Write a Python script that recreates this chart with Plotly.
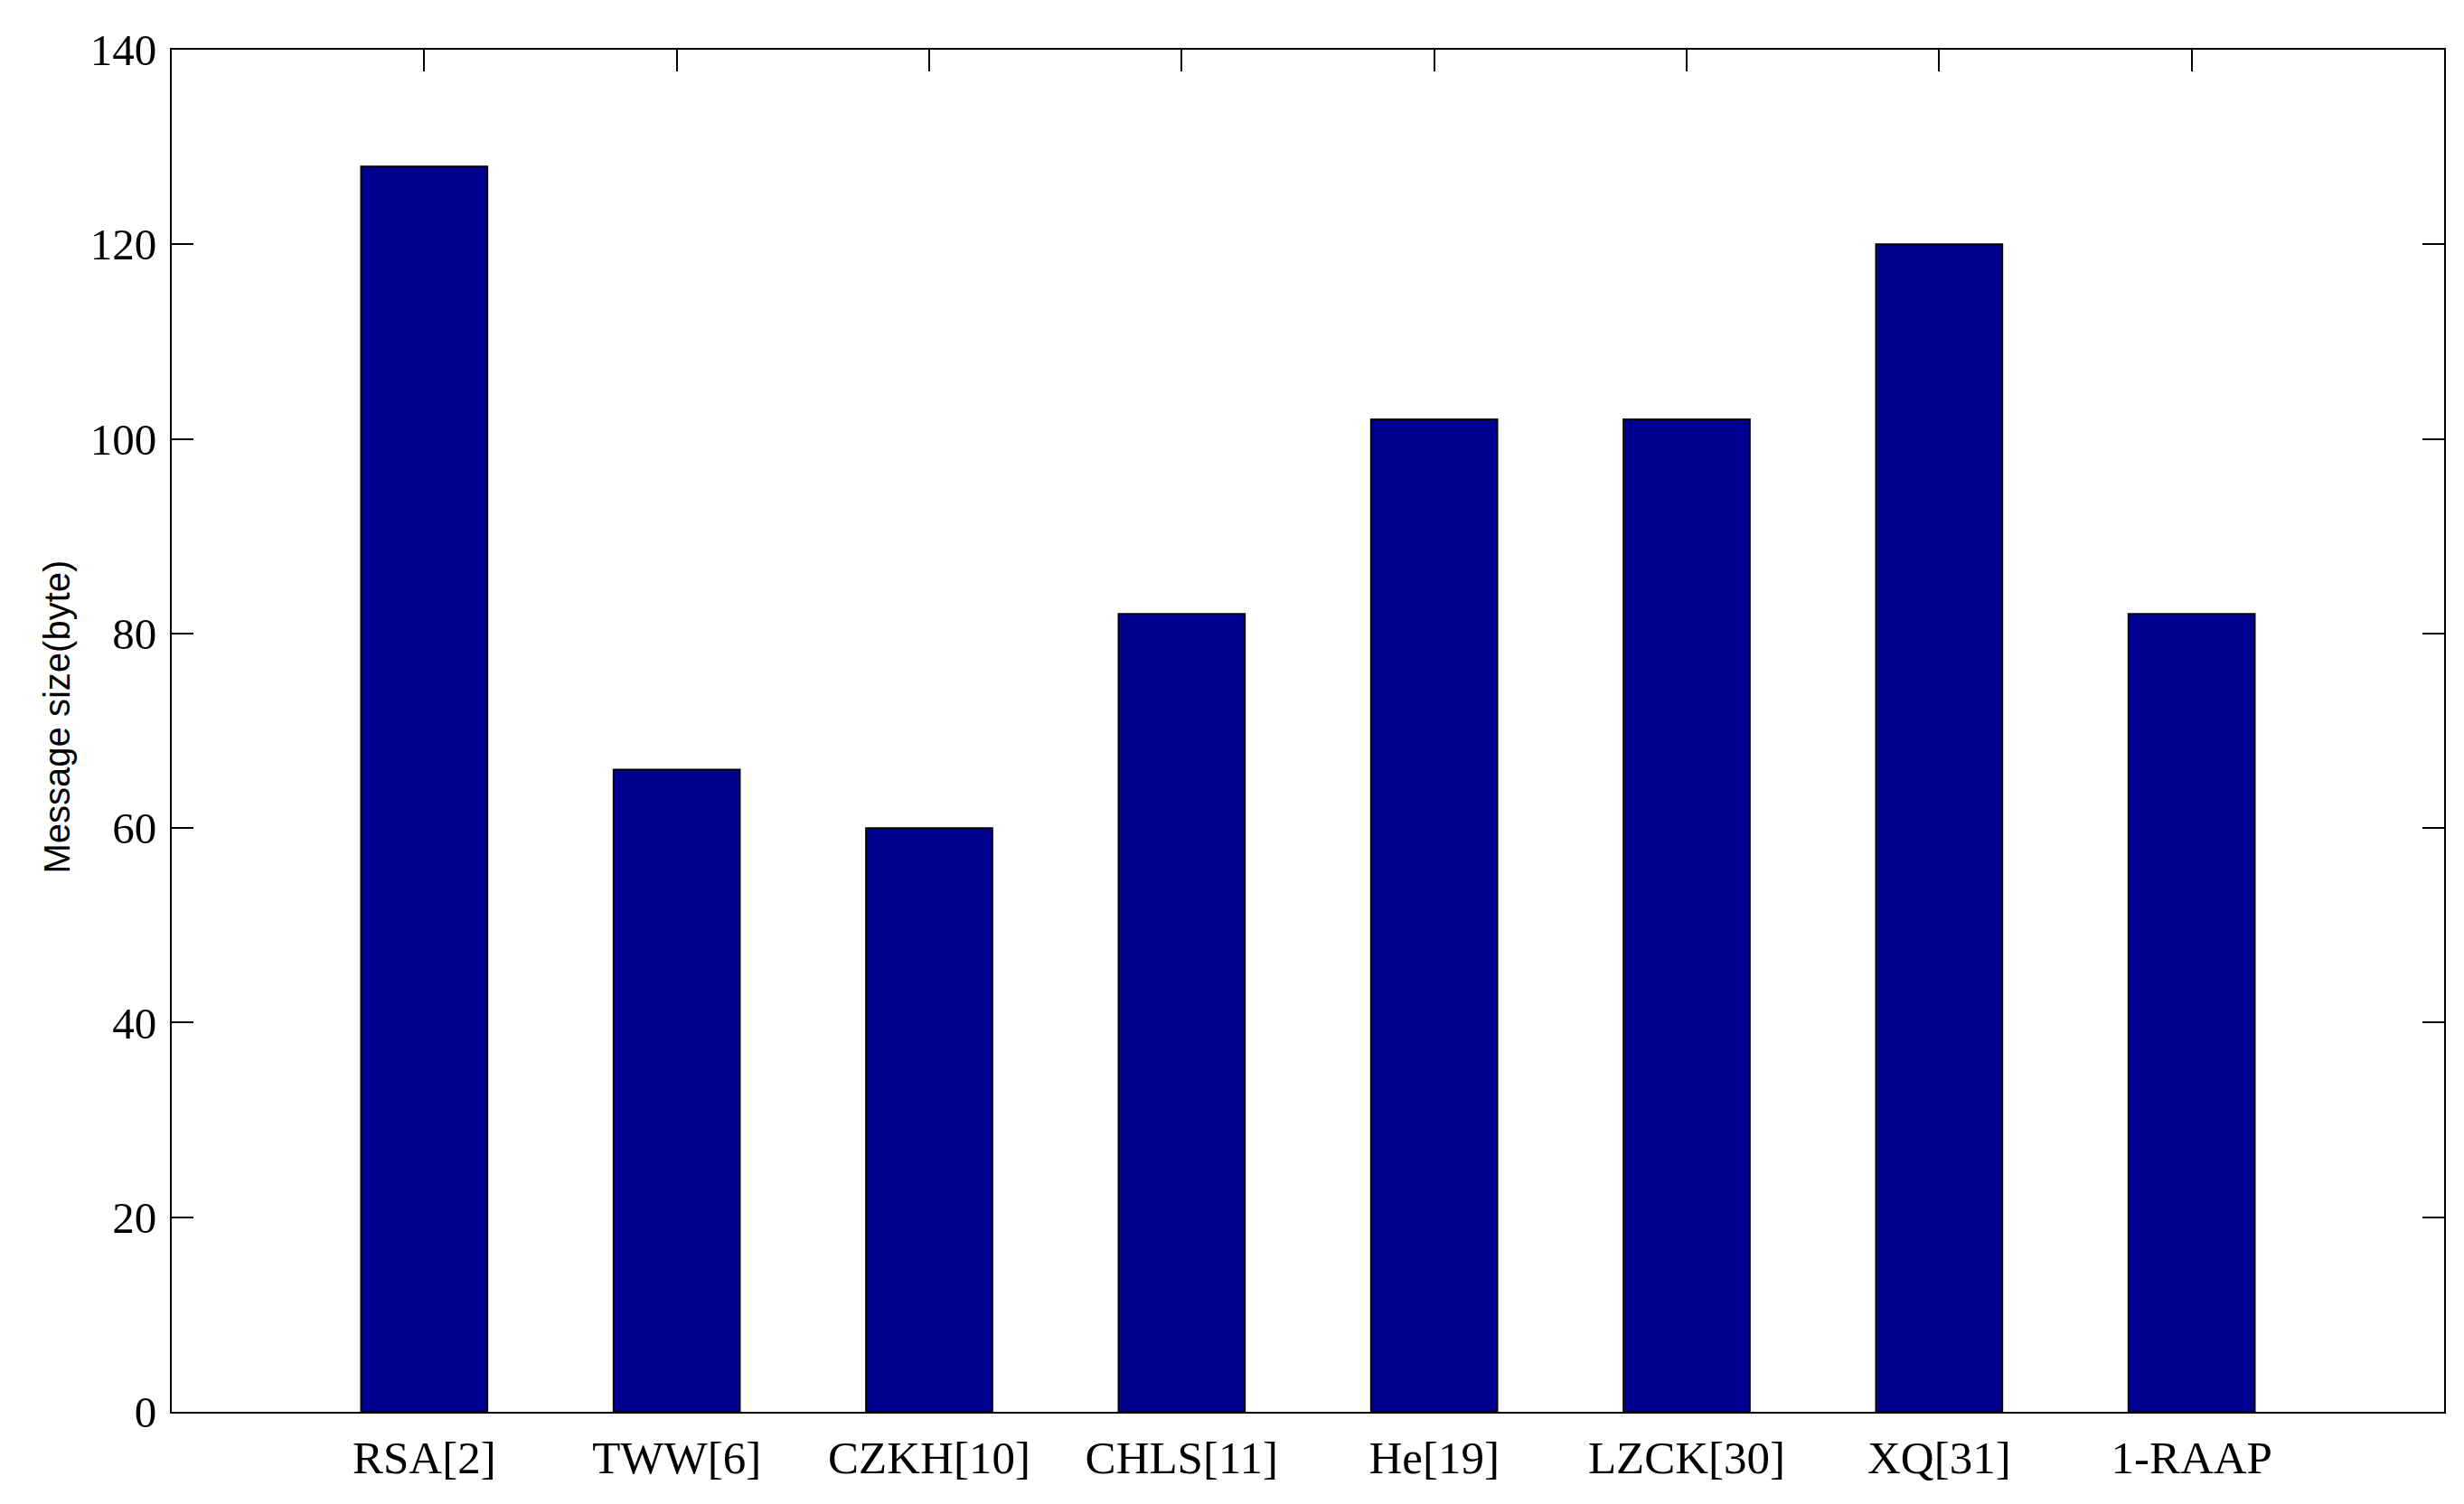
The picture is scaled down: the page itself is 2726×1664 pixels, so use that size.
import plotly.graph_objects as go

categories = ["RSA[2]", "TWW[6]", "CZKH[10]", "CHLS[11]", "He[19]", "LZCK[30]", "XQ[31]", "1-RAAP"]
message_size = [128, 66, 60, 82, 102, 102, 120, 82]
y_ticks = [0, 20, 40, 60, 80, 100, 120, 140]

fig = go.Figure()
fig.add_trace(go.Bar(
    x=categories, y=message_size, width=0.5,
    marker=dict(color="#000090", line=dict(color="black", width=2)),
))

serif = "Liberation Serif"
fig.update_layout(
    width=2726, height=1664,
    margin=dict(l=182, r=30, t=47, b=110),
    paper_bgcolor="white", plot_bgcolor="white",
    showlegend=False,
    font=dict(family=serif, size=46, color="black"),
)
fig.update_xaxes(
    type="category", range=[-1, 8],
    showline=True, linecolor="black", linewidth=2, mirror="ticks",
    ticks="inside", ticklen=24, tickwidth=2, tickcolor="black",
    showgrid=False, zeroline=False, layer="below traces",
    tickfont=dict(family=serif, size=51, color="black"),
    ticklabelstandoff=5,
)
fig.update_yaxes(
    range=[0, 140], tickvals=y_ticks,
    showline=True, linecolor="black", linewidth=2, mirror="ticks",
    ticks="inside", ticklen=24, tickwidth=2, tickcolor="black",
    showgrid=False, zeroline=False,
    tickfont=dict(family=serif, size=49, color="black"),
    ticklabelstandoff=5,
)
fig.add_annotation(
    text="Message size(byte)", textangle=-90,
    xref="paper", yref="paper", x=-0.0505, y=0.51,
    xanchor="center", yanchor="middle", showarrow=False,
    font=dict(family="Liberation Sans", size=40, color="black"),
)
fig.write_html("out.html")
